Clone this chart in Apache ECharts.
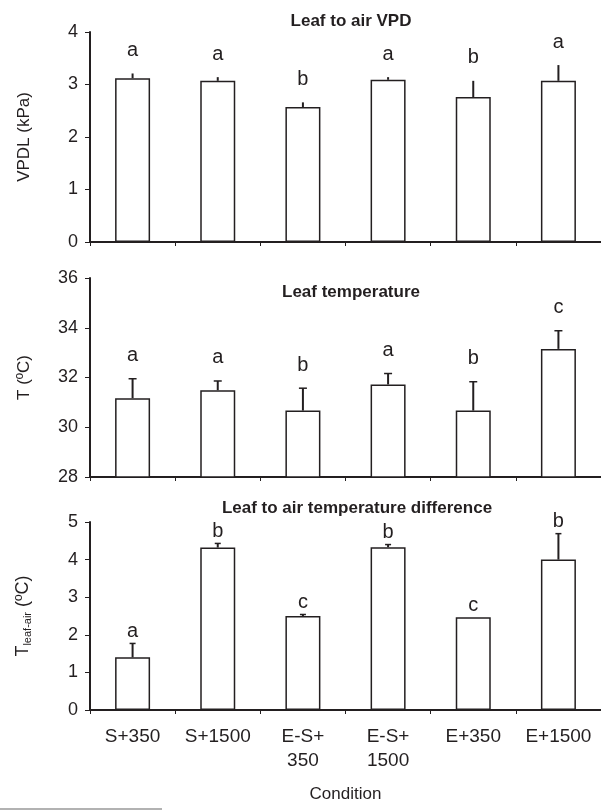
<!DOCTYPE html>
<html>
<head>
<meta charset="utf-8">
<script src="https://cdn.jsdelivr.net/npm/echarts@6/dist/echarts.min.js"></script>
<style>
  html, body { margin: 0; padding: 0; background: #fff; }
  #chart { width: 601px; height: 810px; }
</style>
</head>
<body>
<div id="chart"></div>
<script>
const conditions = ['S+350', 'S+1500', 'E-S+\n350', 'E-S+\n1500', 'E+350', 'E+1500']

// Leaf to air VPD
const vpdMean = [3.12, 3.07, 2.57, 3.09, 2.76, 3.07]
const vpdErr = [0.09, 0.07, 0.09, 0.05, 0.31, 0.30]
const vpdLetters = ['a', 'a', 'b', 'a', 'b', 'a']

// Leaf temperature
const tempMean = [31.17, 31.49, 30.67, 31.72, 30.67, 33.15]
const tempErr = [0.78, 0.37, 0.9, 0.44, 1.16, 0.73]
const tempLetters = ['a', 'a', 'b', 'a', 'b', 'c']

// Leaf to air temperature difference
const diffMean = [1.40, 4.32, 2.50, 4.33, 2.47, 4.00]
const diffErr = [0.37, 0.11, 0.04, 0.07, 0, 0.69]
const diffLetters = ['a', 'b', 'c', 'b', 'c', 'b']

const font = "'Liberation Sans', Arial, sans-serif"
const ink = '#231f20'

const chart = echarts.init(document.getElementById('chart'), null, { renderer: 'canvas' })

const grids = [
  { left: 90, top: 32, width: 513, height: 210 },
  { left: 90, top: 278, width: 513, height: 199 },
  { left: 90, top: 522, width: 513, height: 188 }
]

function xAxis(idx, showLabels) {
  return {
    type: 'category',
    gridIndex: idx,
    data: conditions,
    axisLine: { lineStyle: { color: ink, width: 2 } },
    axisTick: { show: true, length: 4, lineStyle: { color: ink, width: 1 } },
    axisLabel: {
      show: showLabels, color: ink, fontFamily: font, fontSize: 19,
      margin: 15, lineHeight: 24, interval: 0
    },
    name: showLabels ? 'Condition' : '',
    nameLocation: 'middle',
    nameGap: 76,
    nameTextStyle: { color: ink, fontFamily: font, fontSize: 17 }
  }
}

function yAxis(idx, min, max, step, name) {
  return {
    type: 'value',
    gridIndex: idx,
    min: min, max: max, interval: step,
    splitLine: { show: false },
    axisLine: { show: true, lineStyle: { color: ink, width: 2 } },
    axisTick: { show: true, length: 5, lineStyle: { color: ink, width: 1 } },
    axisLabel: { color: ink, fontFamily: font, fontSize: 18, margin: 12 },
    name: name,
    nameLocation: 'middle',
    nameGap: 57,
    nameTextStyle: {
      color: ink, fontFamily: font, fontSize: 17,
      rich: {
        t: { fontFamily: font, fontSize: 18, color: ink },
        s: { fontFamily: font, fontSize: 11, color: ink, padding: [8, 0, 0, 0] }
      }
    }
  }
}

function barSeries(idx, values) {
  return {
    type: 'bar',
    xAxisIndex: idx, yAxisIndex: idx,
    data: values,
    barWidth: 35,
    itemStyle: { color: '#fff', borderColor: ink, borderWidth: 1.5 },
    silent: true
  }
}

function errSeries(idx, means, errs, letters, cap, gap) {
  return {
    type: 'custom',
    xAxisIndex: idx, yAxisIndex: idx,
    data: means.map((m, i) => [i, m, errs[i]]),
    encode: { x: 0, y: 1 },
    z: 5,
    silent: true,
    renderItem: (params, api) => {
      const i = api.value(0)
      const m = api.value(1)
      const e = api.value(2)
      const base = api.coord([i, m])
      const top = api.coord([i, m + e])
      const children = []
      if (e > 0) {
        children.push({
          type: 'line',
          shape: { x1: base[0], y1: base[1], x2: top[0], y2: top[1] },
          style: { stroke: ink, lineWidth: 2 }
        })
        if (cap > 0) {
          children.push({
            type: 'line',
            shape: { x1: top[0] - cap / 2, y1: top[1], x2: top[0] + cap / 2, y2: top[1] },
            style: { stroke: ink, lineWidth: 1.5 }
          })
        }
      }
      children.push({
        type: 'text',
        style: {
          x: top[0], y: top[1] - gap,
          text: letters[params.dataIndex],
          fill: ink, font: '20px ' + font,
          textAlign: 'center', textVerticalAlign: 'middle'
        }
      })
      return { type: 'group', children: children }
    }
  }
}

const titleStyle = { color: ink, fontFamily: font, fontSize: 17, fontWeight: 'bold' }

const option = {
  animation: false,
  backgroundColor: '#fff',
  title: [
    { text: 'Leaf to air VPD', left: 346, top: 8, textAlign: 'center', textStyle: titleStyle },
    { text: 'Leaf temperature', left: 346, top: 279, textAlign: 'center', textStyle: titleStyle },
    { text: 'Leaf to air temperature difference', left: 352, top: 495, textAlign: 'center', textStyle: titleStyle }
  ],
  grid: grids,
  xAxis: [xAxis(0, false), xAxis(1, false), xAxis(2, true)],
  yAxis: [
    yAxis(0, 0, 4, 1, 'VPDL (kPa)'),
    yAxis(1, 28, 36, 2, 'T (ºC)'),
    yAxis(2, 0, 5, 1, '{t|T}{s|leaf-air}{t| (ºC)}')
  ],
  series: [
    barSeries(0, vpdMean),
    errSeries(0, vpdMean, vpdErr, vpdLetters, 0, 23),
    barSeries(1, tempMean),
    errSeries(1, tempMean, tempErr, tempLetters, 8, 23),
    barSeries(2, diffMean),
    errSeries(2, diffMean, diffErr, diffLetters, 6, 12)
  ],
  graphic: [
    {
      type: 'line',
      shape: { x1: 0, y1: 809, x2: 162, y2: 809 },
      style: { stroke: '#999', lineWidth: 1.5 }
    }
  ]
}

chart.setOption(option)
</script>
</body>
</html>
